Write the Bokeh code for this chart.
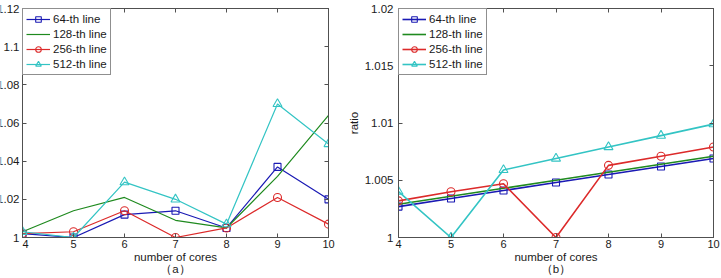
from bokeh.plotting import figure
from bokeh.layouts import row, column
from bokeh.models import (Range1d, LinearAxis, FixedTicker, Legend,
                          LegendItem)
from bokeh.core.properties import value
from bokeh.embed import file_html
from bokeh.resources import INLINE

# number of cores on the x axis
cores = [4, 5, 6, 7, 8, 9, 10]

# panel (a) ratios per line size
a_64 = [1.002, 1.000, 1.012, 1.014, 1.005, 1.037, 1.020]
a_128 = [1.003, 1.014, 1.021, 1.009, 1.005, 1.032, 1.064]
a_256 = [1.002, 1.003, 1.014, 1.000, 1.005, 1.021, 1.007]
a_512 = [1.003, 1.000, 1.029, 1.020, 1.007, 1.070, 1.049]

# panel (b) ratios per line size
b_64 = [1.0027, 1.0034, 1.0041, 1.0048, 1.0055, 1.0062, 1.0069]
b_128 = [1.0029, 1.0036, 1.0043, 1.0050, 1.0057, 1.0064, 1.0071]
b_256 = [1.0032, 1.0040, 1.0047, 1.0000, 1.0063, 1.0071, 1.0079]
b_512 = [1.0040, 1.0000, 1.0059, 1.0069, 1.0079, 1.0089, 1.0099]

series_names = ["64-th line", "128-th line", "256-th line", "512-th line"]

a_ticks = [1.0, 1.02, 1.04, 1.06, 1.08, 1.1, 1.12]
a_tick_labels = ["1", "1.02", "1.04", "1.06", "1.08", "1.1", "1.12"]
b_ticks = [1.0, 1.005, 1.01, 1.015, 1.02]
b_tick_labels = ["1", "1.005", "1.01", "1.015", "1.02"]

FONT = "Liberation Sans"
COLORS = ["#1a1ab4", "#1f8a1f", "#dc2a2a", "#33c4c4"]
MARKERS = ["square", None, "circle", "triangle"]
MSIZE = {"square": 7, "circle": 8, "triangle": 9}
FRAME = "#505050"
TEXT = "#1a1a1a"
TOP, BOTTOM, H = 8, 41, 278


def style(ax, ticks, show_labels):
    ax.major_tick_in = 4
    ax.major_tick_out = 0
    ax.minor_tick_line_color = None
    ax.axis_line_color = FRAME
    ax.major_tick_line_color = FRAME
    ax.major_label_text_font = FONT
    ax.major_label_text_color = TEXT
    ax.major_label_text_font_size = "11.5px"
    ax.axis_label_text_font = FONT
    ax.axis_label_text_font_style = "normal"
    ax.axis_label_text_font_size = "11.5px"
    ax.axis_label_text_color = TEXT
    ax.axis_label_text_line_height = 1.0
    if not show_labels:
        ax.major_label_overrides = {t: "" for t in ticks}
        ax.major_label_standoff = 0


def tick_strip(width, ylo, yhi, ticks, tick_labels):
    # narrow strip holding the y tick labels of panel (a); its frame spans
    # nearly the full height so the end labels are not cut vertically
    pad_bottom = 8
    frame_h = H - TOP - BOTTOM
    per_px = (yhi - ylo) / frame_h
    lo = ylo - (BOTTOM - pad_bottom) * per_px
    hi = yhi + TOP * per_px
    s = figure(width=width, height=H, output_backend="svg",
               toolbar_location=None, x_range=Range1d(0, 1),
               y_range=Range1d(lo, hi), min_border_left=0, min_border_right=0,
               min_border_top=0, min_border_bottom=pad_bottom,
               x_axis_location=None, y_axis_location=None)
    s.grid.visible = False
    s.outline_line_color = None
    s.text(x=[1] * len(ticks), y=ticks, text=tick_labels, x_offset=-3,
           text_align="right", text_baseline="middle",
           text_font=value(FONT), text_font_size="11.5px", text_color=TEXT)
    return s


def make_panel(width, left, right, ylo, yhi, ticks, tick_labels, series,
               lw, caption, axis_tick_labels, ylabel=None):
    p = figure(width=width, height=H, output_backend="svg",
               toolbar_location=None, x_range=Range1d(4, 10),
               y_range=Range1d(ylo, yhi), min_border_left=left,
               min_border_right=right, min_border_top=TOP,
               min_border_bottom=BOTTOM,
               x_axis_location=None, y_axis_location=None)
    p.grid.visible = False
    p.outline_line_color = FRAME
    p.outline_line_width = 1

    # axis title with the panel caption on a second line
    xb = LinearAxis(ticker=FixedTicker(ticks=cores),
                    axis_label="number of cores\n" + caption)
    style(xb, cores, True)
    xb.major_label_text_font_size = "11px"
    xb.major_label_standoff = 2
    xb.axis_label_standoff = 0
    p.add_layout(xb, "below")

    xt = LinearAxis(ticker=FixedTicker(ticks=cores))
    style(xt, cores, False)
    p.add_layout(xt, "above")

    yl = LinearAxis(ticker=FixedTicker(ticks=ticks))
    style(yl, ticks, axis_tick_labels)
    if axis_tick_labels:
        yl.major_label_overrides = dict(zip(ticks, tick_labels))
        yl.major_label_standoff = 5
    if ylabel:
        yl.axis_label = ylabel
        yl.axis_label_standoff = 2
    p.add_layout(yl, "left")

    yr = LinearAxis(ticker=FixedTicker(ticks=ticks))
    style(yr, ticks, False)
    p.add_layout(yr, "right")

    items = []
    for name, vals, color, marker in zip(series_names, series, COLORS, MARKERS):
        rs = [p.line(cores, vals, line_color=color, line_width=lw)]
        if marker:
            rs.append(p.scatter(cores, vals, marker=marker, size=MSIZE[marker],
                                line_color=color, line_width=1.1,
                                fill_alpha=0))
        items.append(LegendItem(label=name, renderers=rs))

    legend = Legend(items=items, location="top_left", margin=0, padding=3,
                    spacing=1, border_line_color="#202020",
                    border_line_width=1, label_text_font=FONT,
                    label_text_font_size="11.5px", label_height=14,
                    glyph_height=14, glyph_width=24, label_standoff=3,
                    label_text_color=TEXT, background_fill_alpha=1)
    p.add_layout(legend)
    return p


strip = tick_strip(22, 1.0, 1.12, a_ticks, a_tick_labels)
pa = make_panel(320, 0, 14, 1.0, 1.12, a_ticks, a_tick_labels,
                [a_64, a_128, a_256, a_512], 1.2, "（a）", False)
pb = make_panel(379, 56, 8, 1.0, 1.02, b_ticks, b_tick_labels,
                [b_64, b_128, b_256, b_512], 1.6, "（b）", True, ylabel="ratio")

layout = row(column(strip), pa, pb)
open("out.html", "w").write(file_html(layout, INLINE))
